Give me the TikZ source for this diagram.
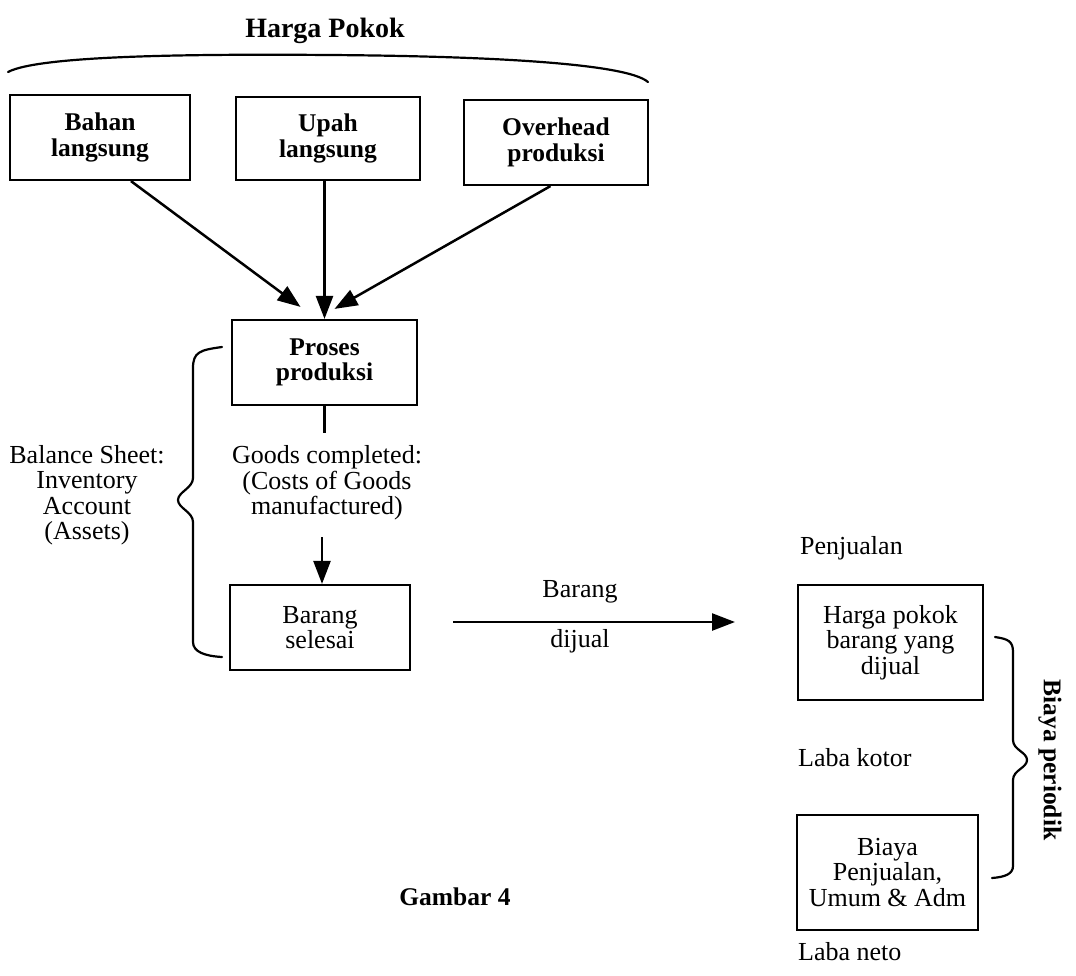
\documentclass[tikz,border=0pt]{standalone}
\usepackage{fontspec}
\setmainfont{Liberation Serif}
\usetikzlibrary{arrows.meta,calc}
\begin{document}
\begin{tikzpicture}[x=1pt,y=-1pt,
  txt/.style={inner sep=0pt,align=center,font=\fontsize{26}{25.5}\selectfont},
  btxt/.style={inner sep=0pt,align=center,font=\fontsize{25.5}{25.5}\selectfont\bfseries},
  box/.style={draw,line width=2.2pt,inner sep=0pt,align=center},
  arr/.style={line width=2.5pt,-{Triangle[length=23pt,width=17pt]}},
  ln/.style={line width=2.2pt},
  brace/.style={line width=2.2pt,line cap=round}]
\useasboundingbox (0,0) rectangle (1076,975);
% title and arc
\node[btxt,font=\fontsize{28}{30}\selectfont\bfseries] (title) at (325,31) {Harga Pokok};
\coordinate (arcL) at (8,72);
\coordinate (arcR) at (648,82);
\draw[brace] (arcL) .. controls (40,55) and (200,54) .. (330,55) .. controls (470,56) and (625,62) .. (arcR);
% top boxes
\node[box,btxt,minimum width=180pt,minimum height=85pt] (bahan) at (100,137.5) {Bahan\\langsung};
\node[box,btxt,minimum width=184pt,minimum height=83pt] (upah) at (328,138.5) {Upah\\langsung};
\node[box,btxt,minimum width=184pt,minimum height=85pt] (over) at (556,142.5) {Overhead\\produksi};
% process
\node[box,btxt,minimum width=185pt,minimum height=85pt] (proses) at (324.5,362.5) {Proses\\produksi};
\draw[arr] ($(bahan.south west)!0.67!(bahan.south east)$) -- ($(proses.north)+(-24,-12)$);
\draw[arr] (upah.south -| proses.north) -- (proses.north);
\draw[arr] ($(over.south west)!0.47!(over.south east)$) -- ($(proses.north)+(10,-10)$);
% goods completed
\node[txt] (goods) at (327,483) {Goods completed:\\(Costs of Goods\\manufactured)};
\coordinate (g1) at ($(proses.south)+(0,27)$);
\draw[ln] (proses.south) -- (g1);
\node[box,txt,minimum width=180pt,minimum height=85pt] (barang) at (320,627.5) {Barang\\selesai};
\coordinate (g2) at (322,537);
\draw[arr] (g2) -- (g2 |- barang.north);
% left brace and text
\coordinate (lbT) at (222,347);
\coordinate (lbB) at (222,657);
\coordinate (lbM) at (178,500);
\draw[brace] (lbT) .. controls (200,350) and (193,352) .. (193,368) -- (193,478) .. controls (193,488) and (178,492) .. (lbM) .. controls (178,508) and (193,512) .. (193,522) -- (193,642) .. controls (193,652) and (205,656) .. (lbB);
\node[txt] (bs) at (87,495) {Balance Sheet:\\Inventory\\Account\\(Assets)};
% horizontal arrow
\coordinate (ha) at (453,622);
\coordinate (hb) at (735,622);
\draw[arr] (ha) -- (hb);
\node[txt] (lb1) at (580,592) {Barang};
\node[txt] (lb2) at (580,641) {dijual};
% right column
\node[txt,anchor=west] (penj) at (800,548) {Penjualan};
\node[box,txt,minimum width=185pt,minimum height=115pt] (hpp) at (890.5,642.5) {Harga pokok\\barang yang\\dijual};
\node[txt,anchor=west] (kotor) at (798,758) {Laba kotor};
\node[box,txt,minimum width=181pt,minimum height=115pt] (biaya) at (887.5,872.5) {Biaya\\Penjualan,\\Umum \& Adm};
\node[txt,anchor=west] (neto) at (798,952) {Laba neto};
% right brace
\coordinate (rbT) at (995,637);
\coordinate (rbB) at (992,878);
\coordinate (rbM) at (1027,760);
\draw[brace] (rbT) .. controls (1008,639) and (1013,641) .. (1013,652) -- (1013,740) .. controls (1013,750) and (1027,752) .. (rbM) .. controls (1027,768) and (1013,770) .. (1013,780) -- (1013,866) .. controls (1013,874) and (1005,877) .. (rbB);
\node[btxt,rotate=-90] (per) at (1050,760) {Biaya periodik};
% caption
\node[btxt] (gambar) at (455,897) {Gambar 4};
\end{tikzpicture}
\end{document}
